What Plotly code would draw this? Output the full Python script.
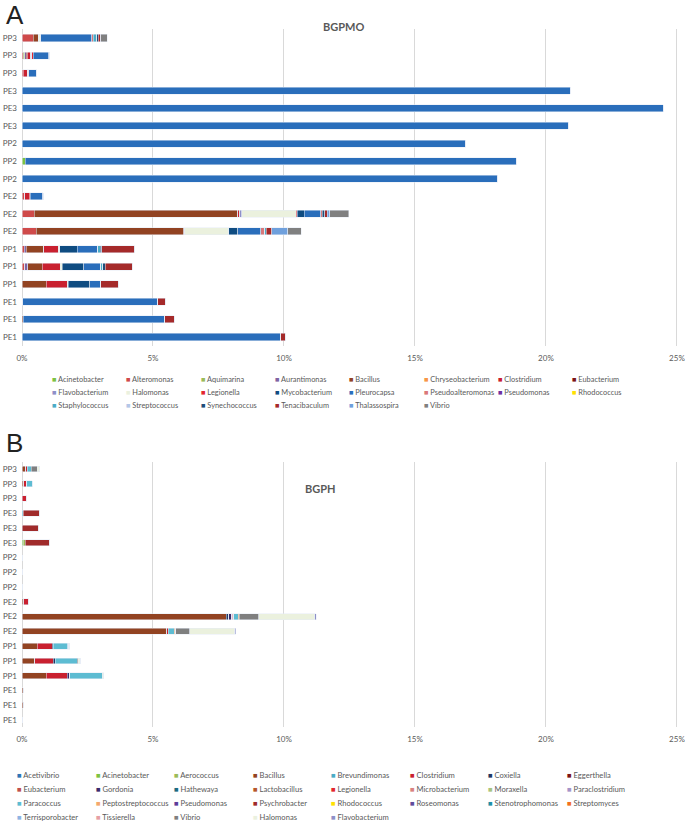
import plotly.graph_objects as go

# ---------------- data ----------------
row_labels = ["PP3", "PP3", "PP3", "PE3", "PE3", "PE3", "PP2", "PP2", "PP2",
              "PE2", "PE2", "PE2", "PP1", "PP1", "PP1", "PE1", "PE1", "PE1"]  # top -> bottom
x_ticks = [0, 5, 10, 15, 20, 25]
x_tick_labels = ["0%", "5%", "10%", "15%", "20%", "25%"]

# Panel A (BGPMO), relative abundance in %
a_genera = ["Acinetobacter", "Alteromonas", "Aquimarina", "Aurantimonas", "Bacillus", "Chryseobacterium",
            "Clostridium", "Eubacterium", "Flavobacterium", "Halomonas", "Legionella", "Mycobacterium",
            "Pleurocapsa", "Pseudoalteromonas", "Pseudomonas", "Rhodococcus", "Staphylococcus",
            "Streptococcus", "Synechococcus", "Tenacibaculum", "Thalassospira", "Vibrio"]
a_colors = ["#7DC242", "#CF4A4A", "#9BBB59", "#8064A2", "#924322", "#F79646",
            "#C9202F", "#7B1416", "#8E90C8", "#EBF1DE", "#E3262E", "#0F4C81",
            "#2A6EBB", "#D9787A", "#7030A0", "#FFE100", "#4BACC6",
            "#B4C7E7", "#1F4E79", "#A52A2A", "#6FA0DC", "#808080"]

A_Acinetobacter = [0, 0, 0, 0, 0, 0, 0, 0.12, 0, 0, 0, 0, 0, 0, 0, 0, 0, 0]
A_Alteromonas = [0.42, 0.04, 0.04, 0, 0, 0, 0, 0, 0, 0.10, 0.46, 0.55, 0.08, 0.11, 0, 0.03, 0, 0]
A_Aquimarina = [0, 0.06, 0, 0, 0, 0, 0, 0, 0, 0, 0, 0, 0, 0, 0, 0, 0, 0]
A_Aurantimonas = [0, 0.06, 0, 0, 0, 0, 0, 0, 0, 0, 0, 0, 0.09, 0.11, 0, 0, 0, 0]
A_Bacillus = [0.22, 0.04, 0, 0, 0, 0, 0, 0, 0, 0, 7.78, 5.62, 0.66, 0.55, 0.93, 0, 0.05, 0]
A_Chryseobacterium = [0, 0, 0, 0, 0, 0, 0, 0, 0, 0, 0, 0.04, 0, 0, 0, 0, 0, 0]
A_Clostridium = [0, 0.14, 0.18, 0, 0, 0, 0, 0, 0, 0.18, 0.08, 0, 0.55, 0.69, 0.79, 0, 0, 0]
A_Eubacterium = [0, 0, 0, 0, 0, 0, 0, 0, 0, 0, 0, 0, 0, 0, 0, 0, 0, 0]
A_Flavobacterium = [0, 0.03, 0, 0, 0, 0, 0, 0, 0, 0, 0.06, 0, 0, 0, 0, 0, 0, 0]
A_Halomonas = [0.08, 0, 0, 0, 0, 0, 0, 0, 0, 0, 2.08, 1.69, 0.06, 0.08, 0.05, 0, 0, 0]
A_Legionella = [0, 0.05, 0.04, 0, 0, 0, 0, 0, 0, 0.04, 0.04, 0, 0, 0, 0, 0, 0, 0]
A_Mycobacterium = [0, 0, 0, 0, 0, 0, 0, 0, 0, 0, 0.27, 0.34, 0.66, 0.82, 0.82, 0, 0, 0]
A_Pleurocapsa = [1.94, 0.60, 0.29, 20.92, 24.48, 20.85, 16.94, 18.74, 18.16,
                 0.46, 0.64, 0.88, 0.80, 0.64, 0.42, 5.15, 5.40, 9.87]
A_Pseudoalteromonas = [0.06, 0.04, 0, 0, 0, 0, 0, 0, 0, 0, 0.06, 0.15, 0, 0, 0, 0, 0, 0]
A_Pseudomonas = [0, 0, 0, 0, 0, 0, 0, 0, 0, 0, 0, 0, 0, 0, 0, 0, 0, 0]
A_Rhodococcus = [0, 0, 0, 0, 0, 0, 0, 0, 0, 0, 0, 0, 0, 0, 0, 0, 0, 0]
A_Staphylococcus = [0.14, 0, 0, 0, 0, 0, 0, 0, 0, 0, 0, 0.06, 0.09, 0.08, 0, 0, 0, 0]
A_Streptococcus = [0, 0, 0.02, 0, 0, 0, 0, 0, 0, 0.04, 0, 0, 0, 0, 0, 0, 0, 0]
A_Synechococcus = [0.05, 0, 0, 0, 0, 0, 0, 0, 0, 0, 0.09, 0, 0.06, 0.10, 0, 0, 0, 0]
A_Tenacibaculum = [0.10, 0, 0, 0, 0, 0, 0, 0, 0, 0, 0.10, 0.20, 1.25, 1.02, 0.66, 0.29, 0.37, 0.18]
A_Thalassospira = [0, 0, 0, 0, 0, 0, 0, 0, 0, 0, 0.09, 0.61, 0, 0, 0, 0, 0, 0]
A_Vibrio = [0.24, 0, 0, 0, 0, 0, 0, 0, 0, 0, 0.72, 0.52, 0, 0, 0, 0, 0, 0]

# Panel B (BGPH), relative abundance in %
b_genera = ["Acetivibrio", "Acinetobacter", "Aerococcus", "Bacillus", "Brevundimonas", "Clostridium",
            "Coxiella", "Eggerthella", "Eubacterium", "Gordonia", "Hathewaya", "Lactobacillus",
            "Legionella", "Microbacterium", "Moraxella", "Paraclostridium", "Paracoccus",
            "Peptostreptococcus", "Pseudomonas", "Psychrobacter", "Rhodococcus", "Roseomonas",
            "Stenotrophomonas", "Streptomyces", "Terrisporobacter", "Tissierella", "Vibrio",
            "Halomonas", "Flavobacterium"]
b_colors = ["#2E75B6", "#7DC242", "#9BBB59", "#924322", "#4BACC6", "#C9202F",
            "#1F3864", "#7B1416", "#C0504D", "#3B2B6B", "#1B6A80", "#B5562B",
            "#E3262E", "#D9827F", "#A9C47F", "#A594C9", "#5DBCD2",
            "#F4A86C", "#5E3C99", "#A02B2B", "#FFE100", "#5F4B9B",
            "#1F8FA6", "#F26F21", "#8EB4E3", "#E6A0A4", "#7F7F7F",
            "#EBF1DE", "#8E90C8"]

B_Acetivibrio = [0, 0, 0, 0, 0, 0, 0, 0, 0, 0, 0, 0, 0, 0, 0, 0, 0, 0]
B_Acinetobacter = [0, 0, 0, 0, 0, 0.04, 0, 0, 0, 0, 0, 0, 0, 0, 0, 0, 0, 0]
B_Aerococcus = [0, 0, 0, 0, 0, 0.09, 0, 0, 0, 0, 0, 0, 0, 0, 0, 0, 0, 0]
B_Bacillus = [0.14, 0.06, 0, 0, 0, 0, 0, 0, 0, 0.06, 7.80, 5.53, 0.59, 0.49, 0.93, 0.04, 0.04, 0]
B_Brevundimonas = [0, 0, 0, 0, 0, 0, 0, 0, 0, 0, 0, 0, 0, 0, 0, 0, 0, 0]
B_Clostridium = [0.06, 0.13, 0.18, 0, 0, 0, 0, 0, 0, 0.19, 0, 0.05, 0.57, 0.70, 0.80, 0, 0, 0]
B_Coxiella = [0, 0, 0, 0, 0, 0, 0, 0, 0, 0, 0.10, 0, 0.03, 0.08, 0, 0, 0, 0]
B_Eggerthella = [0, 0, 0, 0, 0, 0, 0, 0, 0, 0, 0, 0, 0, 0, 0, 0, 0, 0]
B_Eubacterium = [0, 0, 0, 0, 0, 0, 0, 0, 0, 0, 0, 0, 0, 0, 0, 0, 0, 0]
B_Gordonia = [0, 0, 0, 0, 0, 0, 0, 0, 0, 0, 0.10, 0, 0, 0, 0.09, 0, 0, 0]
B_Hathewaya = [0, 0, 0, 0, 0, 0, 0, 0, 0, 0, 0, 0, 0, 0, 0, 0, 0, 0]
B_Lactobacillus = [0, 0, 0, 0, 0, 0, 0, 0, 0, 0, 0, 0, 0, 0, 0, 0, 0, 0]
B_Legionella = [0, 0, 0, 0, 0, 0, 0, 0, 0, 0, 0.04, 0, 0, 0, 0, 0, 0, 0]
B_Microbacterium = [0, 0, 0, 0, 0, 0, 0, 0, 0, 0, 0.04, 0, 0, 0, 0, 0, 0, 0]
B_Moraxella = [0, 0, 0, 0, 0, 0, 0, 0, 0, 0, 0, 0, 0, 0, 0, 0, 0, 0]
B_Paraclostridium = [0, 0, 0, 0, 0, 0, 0, 0, 0, 0, 0, 0, 0, 0, 0, 0, 0, 0]
B_Paracoccus = [0.15, 0.20, 0, 0.05, 0, 0, 0, 0, 0, 0, 0.18, 0.23, 0.55, 0.84, 1.25, 0, 0, 0]
B_Peptostreptococcus = [0, 0, 0, 0, 0, 0, 0, 0, 0, 0, 0.04, 0.05, 0.04, 0, 0, 0, 0, 0]
B_Pseudomonas = [0, 0, 0, 0, 0, 0, 0, 0, 0, 0, 0, 0, 0, 0, 0, 0, 0, 0]
B_Psychrobacter = [0, 0, 0, 0.63, 0.64, 0.92, 0, 0, 0, 0, 0, 0, 0, 0, 0, 0, 0, 0]
B_Rhodococcus = [0, 0, 0, 0, 0, 0, 0, 0, 0, 0, 0, 0, 0, 0, 0, 0, 0, 0]
B_Roseomonas = [0, 0, 0, 0, 0, 0, 0, 0, 0, 0, 0, 0, 0, 0, 0, 0, 0, 0]
B_Stenotrophomonas = [0, 0, 0, 0, 0, 0, 0, 0, 0, 0, 0, 0, 0, 0, 0, 0, 0, 0]
B_Streptomyces = [0, 0, 0, 0, 0, 0, 0, 0, 0, 0, 0, 0, 0, 0, 0, 0, 0, 0]
B_Terrisporobacter = [0, 0, 0, 0, 0, 0, 0, 0, 0.03, 0, 0, 0, 0, 0, 0, 0, 0, 0]
B_Tissierella = [0, 0, 0, 0, 0, 0, 0, 0, 0, 0, 0, 0, 0, 0, 0, 0, 0, 0]
B_Vibrio = [0.23, 0, 0, 0, 0, 0, 0, 0, 0, 0, 0.74, 0.54, 0, 0.04, 0, 0, 0, 0]
B_Halomonas = [0.09, 0, 0, 0, 0, 0, 0, 0, 0, 0, 2.13, 1.72, 0.05, 0.07, 0.05, 0, 0, 0]
B_Flavobacterium = [0, 0, 0, 0, 0, 0, 0, 0, 0, 0, 0.06, 0.04, 0, 0, 0, 0, 0, 0]

a_values = [A_Acinetobacter, A_Alteromonas, A_Aquimarina, A_Aurantimonas, A_Bacillus, A_Chryseobacterium,
            A_Clostridium, A_Eubacterium, A_Flavobacterium, A_Halomonas, A_Legionella, A_Mycobacterium,
            A_Pleurocapsa, A_Pseudoalteromonas, A_Pseudomonas, A_Rhodococcus, A_Staphylococcus,
            A_Streptococcus, A_Synechococcus, A_Tenacibaculum, A_Thalassospira, A_Vibrio]
b_values = [B_Acetivibrio, B_Acinetobacter, B_Aerococcus, B_Bacillus, B_Brevundimonas, B_Clostridium,
            B_Coxiella, B_Eggerthella, B_Eubacterium, B_Gordonia, B_Hathewaya, B_Lactobacillus,
            B_Legionella, B_Microbacterium, B_Moraxella, B_Paraclostridium, B_Paracoccus,
            B_Peptostreptococcus, B_Pseudomonas, B_Psychrobacter, B_Rhodococcus, B_Roseomonas,
            B_Stenotrophomonas, B_Streptomyces, B_Terrisporobacter, B_Tissierella, B_Vibrio,
            B_Halomonas, B_Flavobacterium]

# ---------------- figure ----------------
W, H = 685, 827
ML, MR = 22, 7
PW = W - ML - MR
FONT = "Lato, 'Liberation Sans', sans-serif"
GREY = "#595959"

n = len(row_labels)
ypos = [n - 1 - i for i in range(n)]


def px_x(px):
    return (px - ML) / PW


def px_y(py):
    return 1 - py / H


fig = go.Figure()
for name, col, vals in zip(a_genera, a_colors, a_values):
    fig.add_trace(go.Bar(x=vals, y=ypos, orientation="h", name=name, marker_color=col,
                         xaxis="x", yaxis="y", showlegend=False))
for name, col, vals in zip(b_genera, b_colors, b_values):
    fig.add_trace(go.Bar(x=vals, y=ypos, orientation="h", name=name, marker_color=col,
                         xaxis="x2", yaxis="y2", showlegend=False))

xax = dict(range=[0, 25.04], tickvals=x_ticks, ticktext=x_tick_labels, showgrid=True,
           gridcolor="#D9D9D9", gridwidth=1, zeroline=True, zerolinecolor="#D9D9D9",
           zerolinewidth=1, showline=False, ticks="", ticklabelstandoff=6,
           ticklabeloverflow="allow",
           tickfont=dict(size=8, color=GREY, family=FONT),
           fixedrange=True, automargin=False)
yax = dict(range=[-0.5, n - 0.5], tickvals=ypos, ticktext=row_labels, showgrid=False,
           zeroline=False, showline=False, ticks="", ticklabelstandoff=4,
           tickfont=dict(size=8, color=GREY, family=FONT), automargin=False)

fig.update_layout(
    width=W, height=H,
    margin=dict(l=ML, r=MR, t=0, b=0),
    paper_bgcolor="white", plot_bgcolor="white",
    barmode="stack", bargap=0.6,
    font=dict(family=FONT, color=GREY),
    xaxis=dict(xax, anchor="y"),
    yaxis=dict(yax, domain=[px_y(345.8), px_y(29.2)], anchor="x"),
    xaxis2=dict(xax, anchor="y2"),
    yaxis2=dict(yax, domain=[px_y(727.4), px_y(461.6)], anchor="x2"),
)

ann = []
# panel letters and titles
ann.append(dict(text="A", x=px_x(4), y=px_y(15), xanchor="left", yanchor="middle",
                font=dict(size=26, family="'Liberation Sans', Arial, sans-serif", color="#222222")))
ann.append(dict(text="B", x=px_x(4), y=px_y(443), xanchor="left", yanchor="middle",
                font=dict(size=26, family="'Liberation Sans', Arial, sans-serif", color="#222222")))
ann.append(dict(text="<b>BGPMO</b>", x=px_x(343), y=px_y(27), xanchor="center", yanchor="middle",
                font=dict(size=11, family=FONT, color=GREY)))
ann.append(dict(text="<b>BGPH</b>", x=px_x(320), y=px_y(488), xanchor="center", yanchor="middle",
                font=dict(size=11, family=FONT, color=GREY)))

# legends (8 columns)
for i, (name, col) in enumerate(zip(a_genera, a_colors)):
    r, c = divmod(i, 8)
    ann.append(dict(text=f'<span style="color:{col}">■</span> {name}',
                    x=px_x(50 + 74.3 * c), y=px_y(380 + 12.5 * r), xanchor="left", yanchor="middle",
                    font=dict(size=7.4, family=FONT, color=GREY)))
for i, (name, col) in enumerate(zip(b_genera, b_colors)):
    r, c = divmod(i, 8)
    ann.append(dict(text=f'<span style="color:{col}">■</span> {name}',
                    x=px_x(15 + 78.5 * c), y=px_y(775 + 14 * r), xanchor="left", yanchor="middle",
                    font=dict(size=7.6, family=FONT, color=GREY)))

for a in ann:
    a.update(xref="paper", yref="paper", showarrow=False)
fig.update_layout(annotations=ann)

fig.write_html("out.html")
